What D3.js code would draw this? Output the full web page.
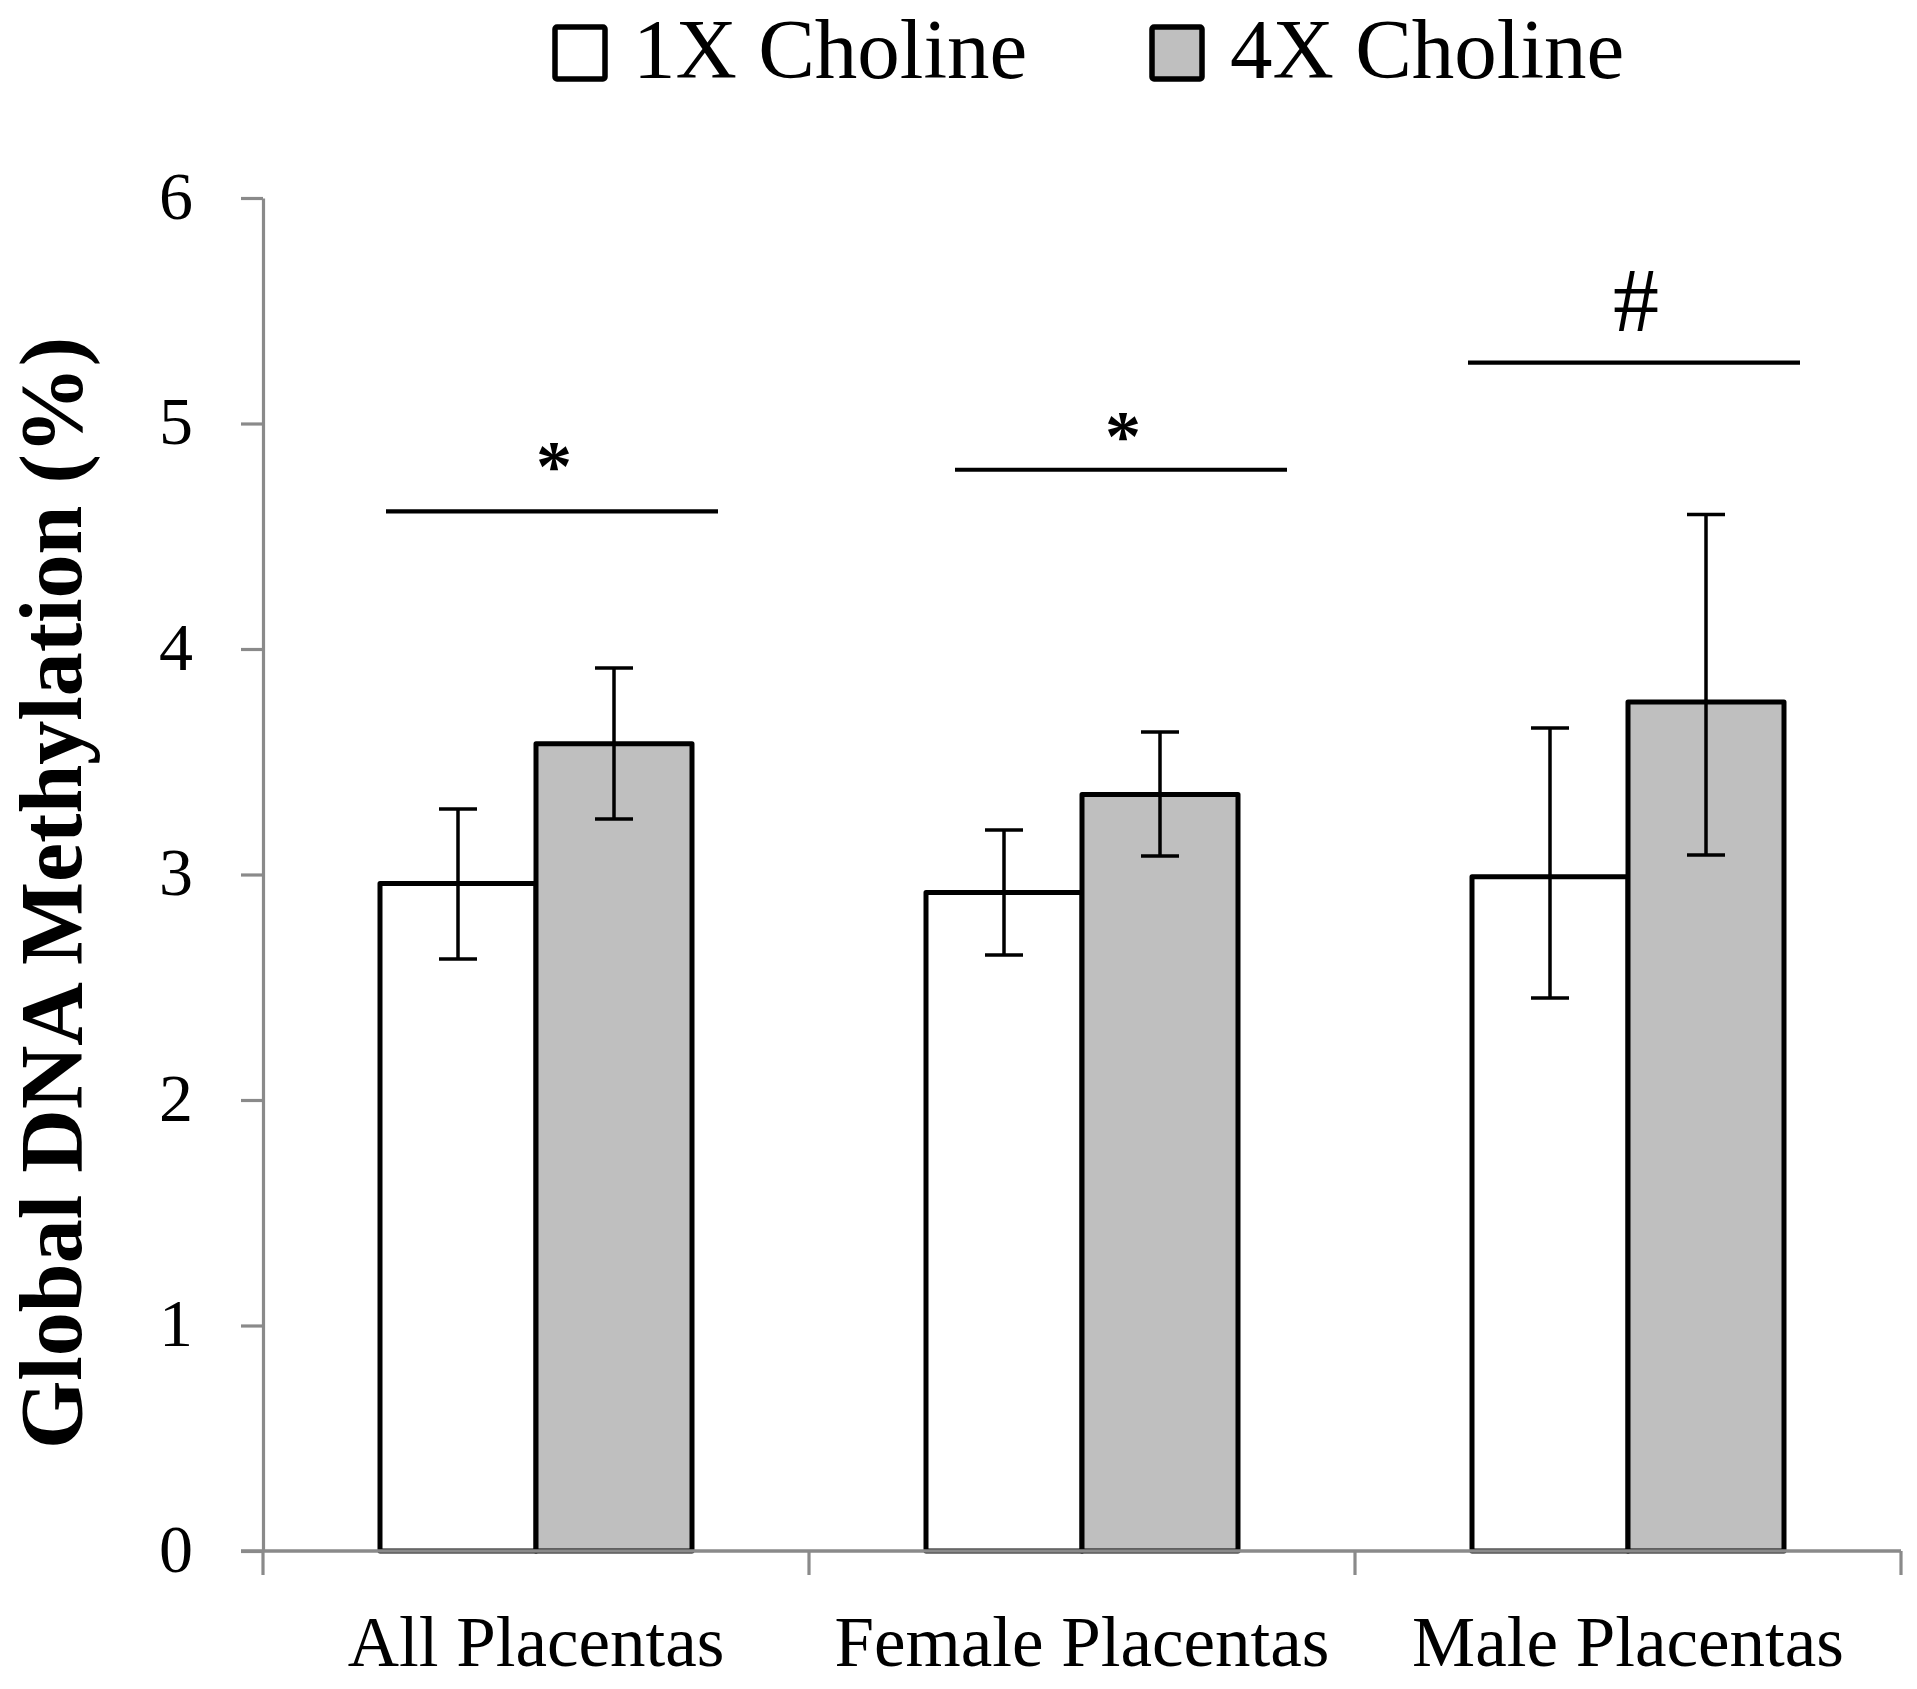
<!DOCTYPE html>
<html>
<head>
<meta charset="utf-8">
<script src="https://cdn.jsdelivr.net/npm/d3@7"></script>
<style>
  body { margin: 0; background: #fff; }
  text { font-family: "Liberation Serif", "Times New Roman", serif; fill: #000; }
</style>
</head>
<body>
<svg id="chart" width="1917" height="1689"></svg>
<script>
// values
const categories = ["All Placentas", "Female Placentas", "Male Placentas"];
const series = ["1X Choline", "4X Choline"];
const means1X = [2.96, 2.92, 2.99];
const means4X = [3.58, 3.355, 3.765];
// error bar ends (upper / lower), as drawn
const errHi1X = [3.29, 3.197, 3.65];
const errLo1X = [2.625, 2.643, 2.452];
const errHi4X = [3.916, 3.632, 4.597];
const errLo4X = [3.246, 3.082, 3.086];
const yTicks = [0, 1, 2, 3, 4, 5, 6];

// significance annotations
const sigLevels = [4.61, 4.795, 5.27];
const sigSymbolLevels = [4.856, 4.99, 5.554];
const sigSymbols = ["*", "*", "#"];

const fills = { "1X Choline": "#ffffff", "4X Choline": "#bfbfbf" };
const axisGray = "#8a8a8a";

let svg = d3.select('#chart');

let x = d3.scaleBand().domain(categories).range([263, 1901]).padding(0);
let xs = d3.scaleBand().domain(series).range([0, x.bandwidth()])
    .paddingInner(0).paddingOuter(0.75);
let y = d3.scaleLinear().domain([0, 6]).range([1551, 198]);

let rows = categories.map((c, i) => ({
    cat: c,
    vals: [
        { s: series[0], v: means1X[i], hi: errHi1X[i], lo: errLo1X[i] },
        { s: series[1], v: means4X[i], hi: errHi4X[i], lo: errLo4X[i] }
    ]
}));

// bars
let groups = svg.append('g').selectAll('g').data(rows).enter().append('g')
    .attr('transform', d => `translate(${x(d.cat)},0)`);

groups.selectAll('rect').data(d => d.vals).enter().append('rect')
    .attr('x', d => xs(d.s))
    .attr('y', d => y(d.v))
    .attr('width', xs.bandwidth())
    .attr('height', d => y(0) - y(d.v))
    .attr('fill', d => fills[d.s])
    .attr('stroke', '#000')
    .attr('stroke-width', 5)
    .attr('stroke-linejoin', 'round');

// error bars
let capW = 38;
let cx = d => xs(d.s) + xs.bandwidth() / 2;
let eb = groups.selectAll('g.err').data(d => d.vals).enter().append('g').classed('err', true)
    .attr('stroke', '#000').attr('stroke-width', 3.5);
eb.append('line')
    .attr('x1', cx).attr('x2', cx)
    .attr('y1', d => y(d.hi)).attr('y2', d => y(d.lo));
eb.append('line')
    .attr('x1', d => cx(d) - capW / 2).attr('x2', d => cx(d) + capW / 2)
    .attr('y1', d => y(d.hi)).attr('y2', d => y(d.hi));
eb.append('line')
    .attr('x1', d => cx(d) - capW / 2).attr('x2', d => cx(d) + capW / 2)
    .attr('y1', d => y(d.lo)).attr('y2', d => y(d.lo));

// y axis
let yAxis = svg.append('g').attr('transform', `translate(${x.range()[0]},0)`)
    .call(d3.axisLeft(y).tickValues(yTicks).tickFormat(d3.format('d'))
        .tickSize(22).tickPadding(48).tickSizeOuter(0));
yAxis.select('.domain').attr('stroke', axisGray).attr('stroke-width', 3.2);
yAxis.selectAll('.tick line').attr('stroke', axisGray).attr('stroke-width', 3.2);
yAxis.selectAll('.tick text')
    .attr('font-family', '"Liberation Serif", serif')
    .attr('font-size', 68)
    .attr('dy', '0.3em')
    .attr('fill', '#000');

// x axis: baseline with ticks at category boundaries
let bounds = categories.map(c => x(c)).concat([x.range()[1]]);
svg.append('line')
    .attr('x1', x.range()[0] - 22).attr('x2', x.range()[1])
    .attr('y1', y(0)).attr('y2', y(0))
    .attr('stroke', axisGray).attr('stroke-width', 3.4);
svg.append('g').selectAll('line').data(bounds).enter().append('line')
    .attr('x1', d => d).attr('x2', d => d)
    .attr('y1', y(0)).attr('y2', y(0) + 24)
    .attr('stroke', axisGray).attr('stroke-width', 3.2);

svg.append('g').selectAll('text').data(categories).enter().append('text')
    .attr('x', d => x(d) + x.bandwidth() / 2)
    .attr('y', 1666)
    .attr('text-anchor', 'middle')
    .attr('font-size', 71)
    .text(d => d);

// y title
svg.append('text')
    .attr('transform', 'translate(81,893) rotate(-90)')
    .attr('text-anchor', 'middle')
    .attr('font-size', 88)
    .attr('font-weight', 'bold')
    .text('Global DNA Methylation (%)');

// significance lines and symbols
let sigShift = [16, 39, 6];
let sigHalf = 166;
let sig = categories.map((c, i) => ({
    cx: x(c) + x.bandwidth() / 2 + sigShift[i],
    level: sigLevels[i], symLevel: sigSymbolLevels[i], sym: sigSymbols[i]
}));
let sg = svg.append('g').selectAll('g').data(sig).enter().append('g');
sg.append('line')
    .attr('x1', d => d.cx - sigHalf).attr('x2', d => d.cx + sigHalf)
    .attr('y1', d => y(d.level)).attr('y2', d => y(d.level))
    .attr('stroke', '#000').attr('stroke-width', 4.2);
sg.append('text')
    .attr('x', d => d.cx + 2)
    .attr('y', d => d.sym === '*' ? y(d.symLevel) + 34 : y(d.symLevel) + 32)
    .attr('text-anchor', 'middle')
    .attr('font-size', d => d.sym === '*' ? 72 : 92)
    .attr('font-weight', d => d.sym === '*' ? 'bold' : 'normal')
    .text(d => d.sym);

// legend
let legend = svg.append('g').selectAll('g').data(series).enter().append('g')
    .attr('transform', (d, i) => `translate(${555 + i * 597},0)`);
legend.append('rect')
    .attr('x', 0).attr('y', 27).attr('width', 50).attr('height', 52).attr('rx', 2)
    .attr('fill', d => fills[d])
    .attr('stroke', '#000').attr('stroke-width', 5.5);
legend.append('text')
    .attr('x', 78).attr('y', 78)
    .attr('font-size', 85)
    .text(d => d);
</script>
</body>
</html>
